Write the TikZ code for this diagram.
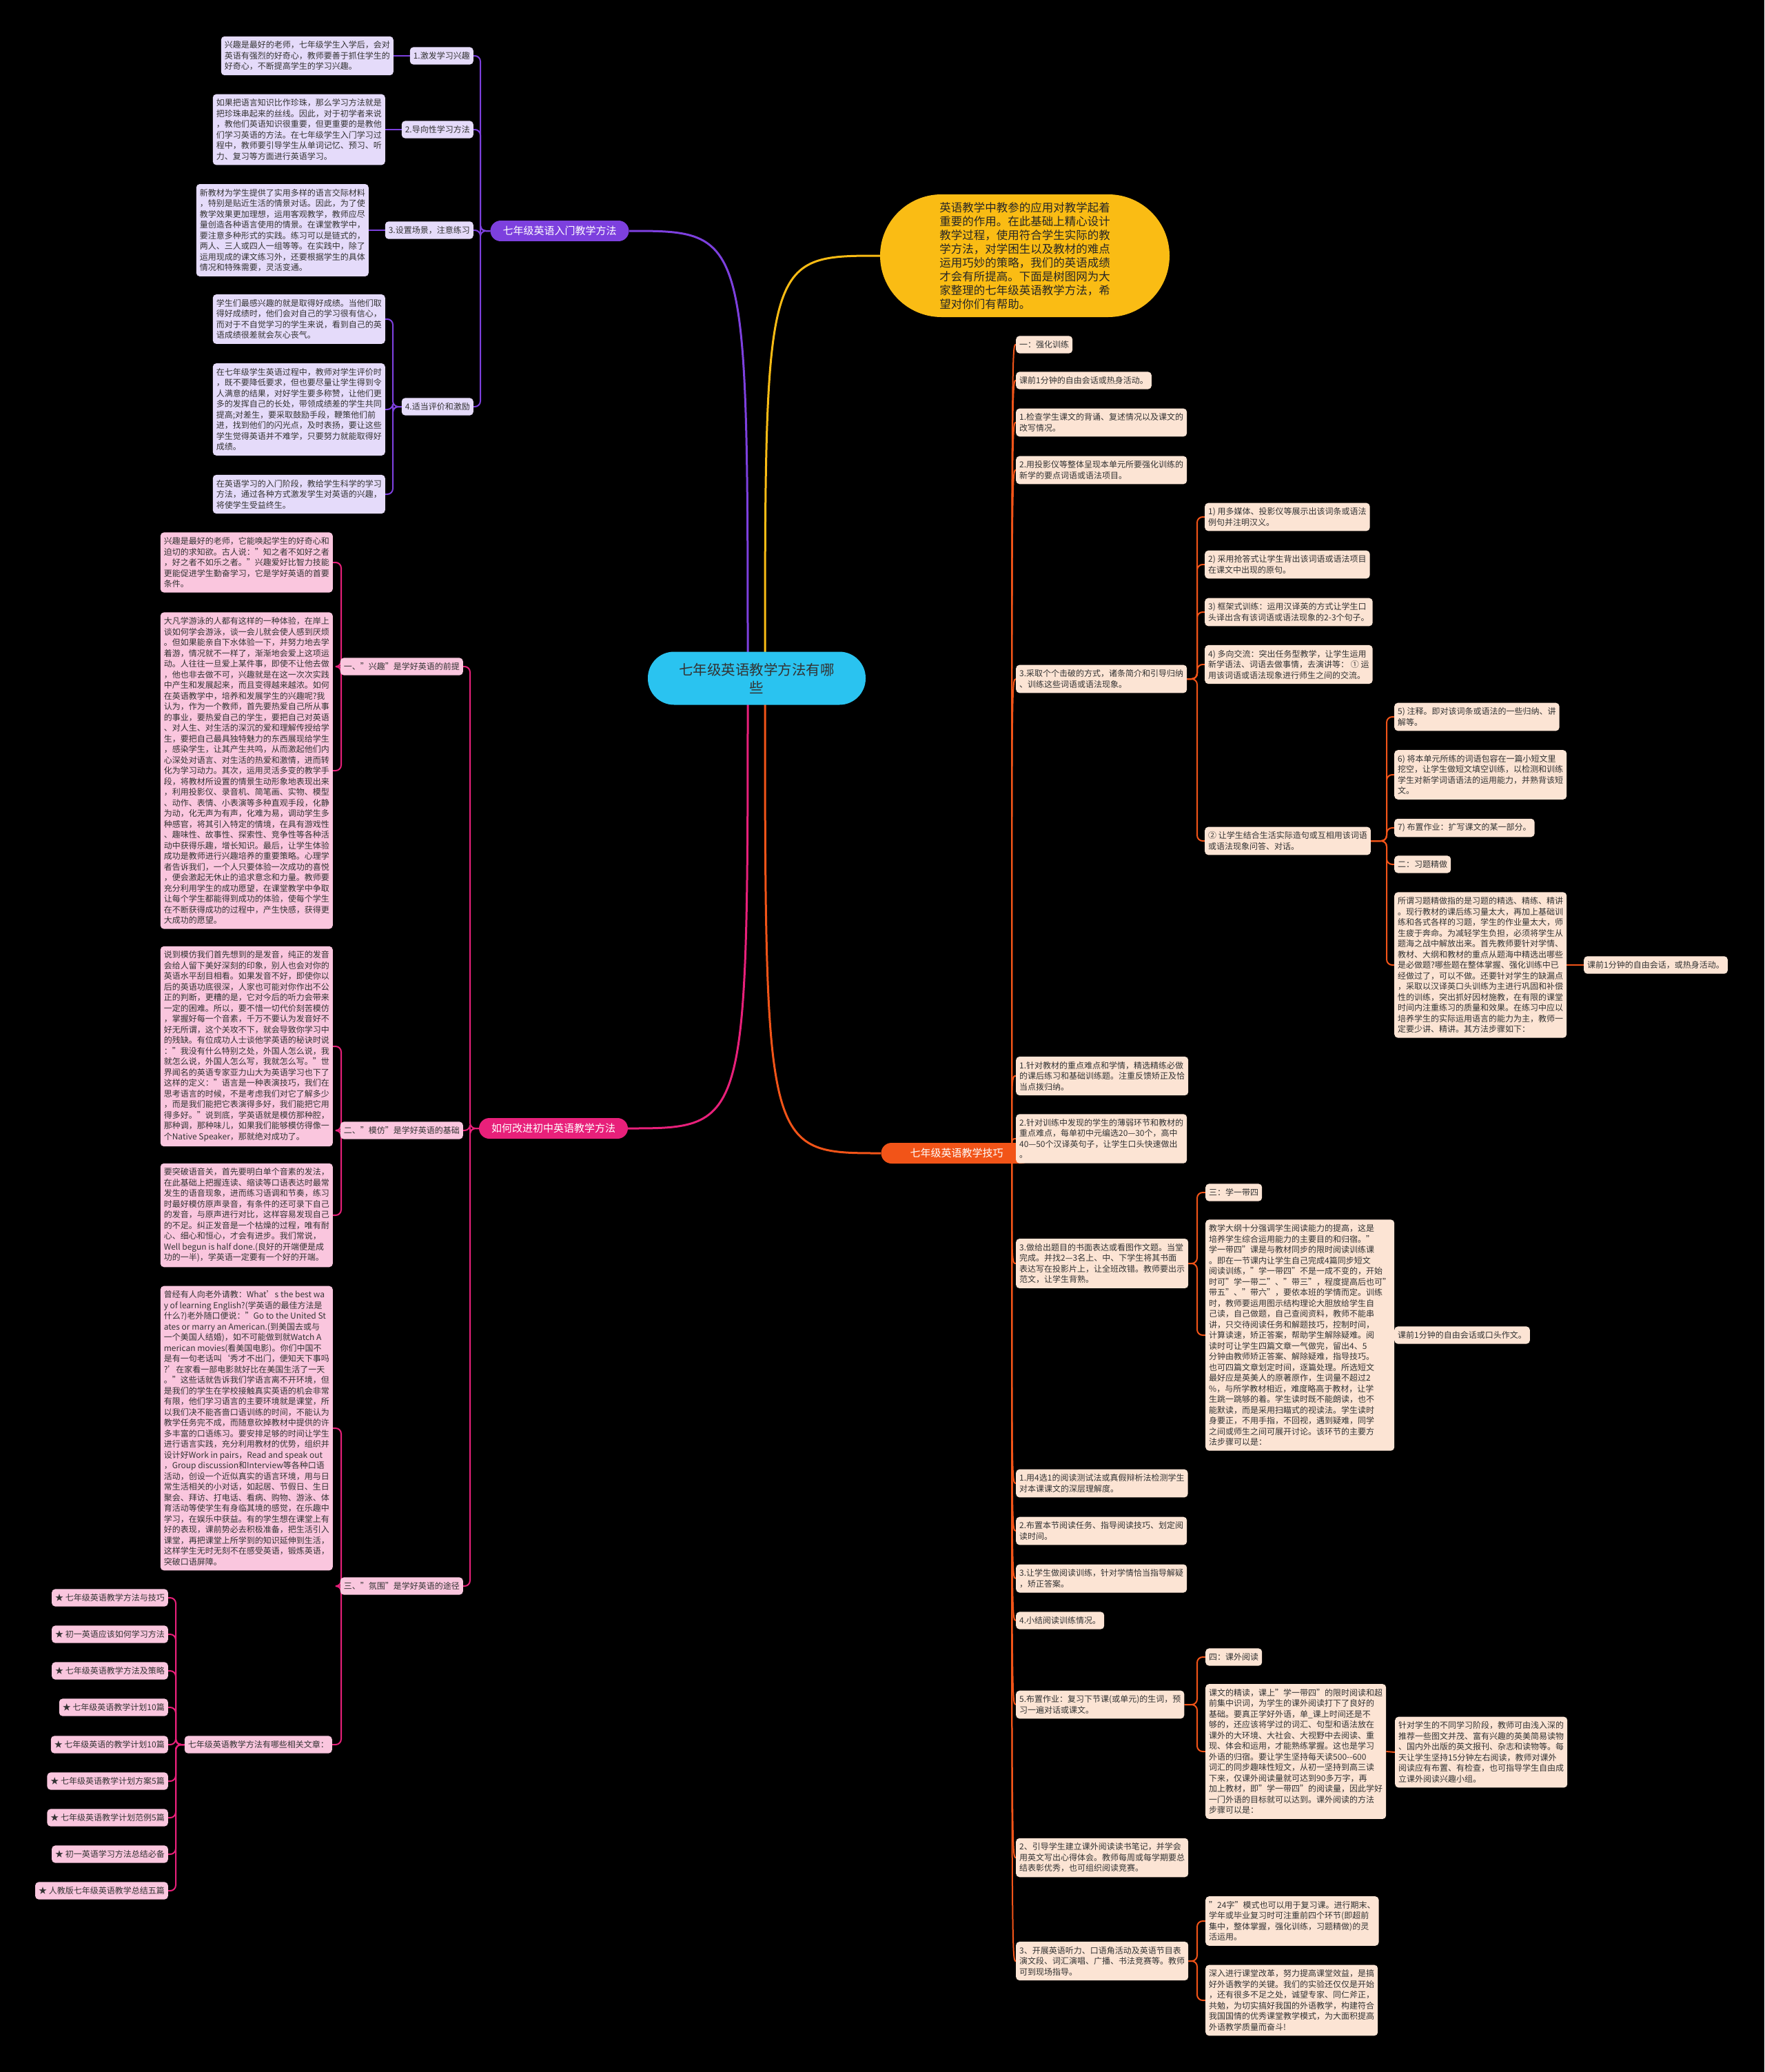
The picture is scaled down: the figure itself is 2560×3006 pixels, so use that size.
\documentclass[tikz,border=0pt]{standalone}
\usepackage{fontspec}
\setmainfont{Noto Sans CJK SC}
\definecolor{cyanc}{RGB}{42,195,240}
\definecolor{yel}{RGB}{250,188,20}
\definecolor{pur}{RGB}{125,64,222}
\definecolor{purl}{RGB}{229,219,250}
\definecolor{pnk}{RGB}{232,32,122}
\definecolor{pnkl}{RGB}{250,198,222}
\definecolor{org}{RGB}{242,84,24}
\definecolor{orgl}{RGB}{252,228,212}
\definecolor{txt}{RGB}{51,51,51}
\pgfdeclarelayer{bg}
\pgfdeclarelayer{lines}
\pgfsetlayers{bg,lines,main}
\tikzset{
  txtbox/.style={font=\fontsize{12}{15.5}\selectfont, align=left, inner xsep=5pt, inner ysep=7pt, rounded corners=5pt, text=txt},
  pbx/.style={txtbox, fill=purl},
  kbx/.style={txtbox, fill=pnkl},
  obx/.style={txtbox, fill=orgl},
  branch/.style={font=\fontsize{15}{18}\selectfont, text=white, inner xsep=18pt, inner ysep=8pt, rounded corners=15pt},
  pcon/.style={draw=pur, line width=2pt, rounded corners=8pt},
  kcon/.style={draw=pnk, line width=2pt, rounded corners=8pt},
  ocon/.style={draw=org, line width=2pt, rounded corners=8pt},
  ocurve/.style={draw=org, line width=2pt},
  mainline/.style={line width=3pt},
}
\begin{document}
\begin{tikzpicture}[x=1pt,y=-1pt]
\begin{pgfonlayer}{bg}
\fill[black] (0,0) rectangle (2560,3006);
\end{pgfonlayer}
\useasboundingbox (0,0) rectangle (2560,3006);

% vertical guide coordinates
\coordinate (vP) at (697,0);
\coordinate (v4) at (570,0);
\coordinate (vK) at (682,0);
\coordinate (v1) at (495,0);
\coordinate (vR) at (255,0);
\coordinate (vO) at (1737,0);
\coordinate (vD) at (2012,0);
\coordinate (P) at (1468,1673);

% root and bubble
\node[fill=cyanc, rounded corners=38pt, minimum width=316pt, minimum height=77pt, align=center, font=\fontsize{20.5}{26}\selectfont, text=txt] (root) at (1098,984) {七年级英语教学方法有哪\\些};
\node[fill=yel, rounded corners=89pt, minimum width=420pt, minimum height=178pt, align=left, font=\fontsize{16.5}{20}\selectfont, text=black!85] (yb) at (1487,371) {英语教学中教参的应用对教学起着\\
重要的作用。在此基础上精心设计\\
教学过程，使用符合学生实际的教\\
学方法，对学困生以及教材的难点\\
运用巧妙的策略，我们的英语成绩\\
才会有所提高。下面是树图网为大\\
家整理的七年级英语教学方法，希\\
望对你们有帮助。};

% ---------------- purple branch
\node[branch, fill=pur] (pb) at (812,335) {七年级英语入门教学方法};
\node[pbx, anchor=east] (l1) at (687,81) {1.激发学习兴趣};
\node[pbx, anchor=east] (b1) at (571,81) {兴趣是最好的老师，七年级学生入学后，会对\\
英语有强烈的好奇心，教师要善于抓住学生的\\
好奇心，不断提高学生的学习兴趣。};
\node[pbx, anchor=east] (l2) at (687,188) {2.导向性学习方法};
\node[pbx, anchor=east] (b2) at (559,188) {如果把语言知识比作珍珠，那么学习方法就是\\
把珍珠串起来的丝线。因此，对于初学者来说\\
，教他们英语知识很重要，但更重要的是教他\\
们学习英语的方法。在七年级学生入门学习过\\
程中，教师要引导学生从单词记忆、预习、听\\
力、复习等方面进行英语学习。};
\node[pbx, anchor=east] (l3) at (687,334) {3.设置场景，注意练习};
\node[pbx, anchor=east] (b3) at (535,334) {新教材为学生提供了实用多样的语言交际材料\\
，特别是贴近生活的情景对话。因此，为了使\\
教学效果更加理想，运用客观教学，教师应尽\\
量创造各种语言使用的情景。在课堂教学中，\\
要注意多种形式的实践。练习可以是链式的，\\
两人、三人或四人一组等等。在实践中，除了\\
运用现成的课文练习外，还要根据学生的具体\\
情况和特殊需要，灵活变通。};
\node[pbx, anchor=east] (l4) at (687,590) {4.适当评价和激励};
\node[pbx, anchor=east] (b4a) at (559,463) {学生们最感兴趣的就是取得好成绩。当他们取\\
得好成绩时，他们会对自己的学习很有信心，\\
而对于不自觉学习的学生来说，看到自己的英\\
语成绩很差就会灰心丧气。};
\node[pbx, anchor=east] (b4b) at (559,594) {在七年级学生英语过程中，教师对学生评价时\\
，既不要降低要求，但也要尽量让学生得到令\\
人满意的结果，对好学生要多称赞，让他们更\\
多的发挥自己的长处，带领成绩差的学生共同\\
提高;对差生，要采取鼓励手段，鞭策他们前\\
进，找到他们的闪光点，及时表扬，要让这些\\
学生觉得英语并不难学，只要努力就能取得好\\
成绩。};
\node[pbx, anchor=east] (b4c) at (559,717) {在英语学习的入门阶段，教给学生科学的学习\\
方法，通过各种方式激发学生对英语的兴趣，\\
将使学生受益终生。};

% ---------------- pink branch
\node[branch, fill=pnk] (kb) at (803,1637) {如何改进初中英语教学方法};
\node[kbx, anchor=east] (p1) at (672,967) {一、"兴趣"是学好英语的前提};
\node[kbx, anchor=east] (p1a) at (483,816) {兴趣是最好的老师，它能唤起学生的好奇心和\\
迫切的求知欲。古人说："知之者不如好之者\\
，好之者不如乐之者。"兴趣爱好比智力技能\\
更能促进学生勤奋学习，它是学好英语的首要\\
条件。};
\node[kbx, anchor=east] (p1b) at (483,1118) {大凡学游泳的人都有这样的一种体验，在岸上\\
谈如何学会游泳，谈一会儿就会使人感到厌烦\\
。但如果能亲自下水体验一下，并努力地去学\\
着游，情况就不一样了，渐渐地会爱上这项运\\
动。人往往一旦爱上某件事，即使不让他去做\\
，他也非去做不可，兴趣就是在这一次次实践\\
中产生和发展起来，而且变得越来越浓。如何\\
在英语教学中，培养和发展学生的兴趣呢?我\\
认为，作为一个教师，首先要热爱自己所从事\\
的事业，要热爱自己的学生，要把自己对英语\\
、对人生、对生活的深沉的爱和理解传授给学\\
生，要把自己最具独特魅力的东西展现给学生\\
，感染学生，让其产生共鸣，从而激起他们内\\
心深处对语言、对生活的热爱和激情，进而转\\
化为学习动力。其次，运用灵活多变的教学手\\
段，将教材所设置的情景生动形象地表现出来\\
，利用投影仪、录音机、简笔画、实物、模型\\
、动作、表情、小表演等多种直观手段，化静\\
为动，化无声为有声，化难为易，调动学生多\\
种感官，将其引入特定的情境，在具有游戏性\\
、趣味性、故事性、探索性、竞争性等各种活\\
动中获得乐趣，增长知识。最后，让学生体验\\
成功是教师进行兴趣培养的重要策略。心理学\\
者告诉我们，一个人只要体验一次成功的喜悦\\
，便会激起无休止的追求意念和力量。教师要\\
充分利用学生的成功愿望，在课堂教学中争取\\
让每个学生都能得到成功的体验，使每个学生\\
在不断获得成功的过程中，产生快感，获得更\\
大成功的愿望。};
\node[kbx, anchor=east] (p2) at (672,1640) {二、"模仿"是学好英语的基础};
\node[kbx, anchor=east] (p2a) at (483,1518) {说到模仿我们首先想到的是发音，纯正的发音\\
会给人留下美好深刻的印象，别人也会对你的\\
英语水平刮目相看。如果发音不好，即使你以\\
后的英语功底很深，人家也可能对你作出不公\\
正的判断，更糟的是，它对今后的听力会带来\\
一定的困难。所以，要不惜一切代价刻苦模仿\\
，掌握好每一个音素，千万不要认为发音好不\\
好无所谓，这个关攻不下，就会导致你学习中\\
的残缺。有位成功人士谈他学英语的秘诀时说\\
："我没有什么特别之处，外国人怎么说，我\\
就怎么说，外国人怎么写，我就怎么写。"世\\
界闻名的英语专家亚力山大为英语学习也下了\\
这样的定义："语言是一种表演技巧，我们在\\
思考语言的时候，不是考虑我们对它了解多少\\
，而是我们能把它表演得多好，我们能把它用\\
得多好。"说到底，学英语就是模仿那种腔，\\
那种调，那种味儿，如果我们能够模仿得像一\\
个Native Speaker，那就绝对成功了。};
\node[kbx, anchor=east] (p2b) at (483,1763) {要突破语音关，首先要明白单个音素的发法，\\
在此基础上把握连读、缩读等口语表达时最常\\
发生的语音现象，进而练习语调和节奏，练习\\
时最好模仿原声录音，有条件的还可录下自己\\
的发音，与原声进行对比，这样容易发现自己\\
的不足。纠正发音是一个枯燥的过程，唯有耐\\
心、细心和恒心，才会有进步。我们常说，\\
Well begun is half done.(良好的开端便是成\\
功的一半)，学英语一定要有一个好的开端。};
\node[kbx, anchor=east] (p3) at (672,2301) {三、"氛围"是学好英语的途径};
\node[kbx, anchor=east] (p3a) at (483,2072) {曾经有人向老外请教：What’s the best wa\\
y of learning English?(学英语的最佳方法是\\
什么?)老外随口便说："Go to the United St\\
ates or marry an American.(到美国去或与\\
一个美国人结婚)，如不可能做到就Watch A\\
merican movies(看美国电影)。你们中国不\\
是有一句老话叫‘秀才不出门，便知天下事吗\\
?’在家看一部电影就好比在美国生活了一天\\
。"这些话就告诉我们学语言离不开环境，但\\
是我们的学生在学校接触真实英语的机会非常\\
有限，他们学习语言的主要环境就是课堂，所\\
以我们决不能吝啬口语训练的时间，不能认为\\
教学任务完不成，而随意砍掉教材中提供的许\\
多丰富的口语练习。要安排足够的时间让学生\\
进行语言实践，充分利用教材的优势，组织并\\
设计好Work in pairs，Read and speak out\\
，Group discussion和Interview等各种口语\\
活动，创设一个近似真实的语言环境，用与日\\
常生活相关的小对话，如起居、节假日、生日\\
聚会、拜访、打电话、看病、购物、游泳、体\\
育活动等使学生有身临其境的感觉，在乐趣中\\
学习，在娱乐中获益。有的学生想在课堂上有\\
好的表现，课前势必去积极准备，把生活引入\\
课堂，再把课堂上所学到的知识延伸到生活，\\
这样学生无时无刻不在感受英语，锻炼英语，\\
突破口语屏障。};
\node[kbx, anchor=east] (rel) at (482,2531) {七年级英语教学方法有哪些相关文章：};
\node[kbx, anchor=east] (s1) at (244,2318) {★ 七年级英语教学方法与技巧};
\node[kbx, anchor=east] (s2) at (244,2371) {★ 初一英语应该如何学习方法};
\node[kbx, anchor=east] (s3) at (244,2424) {★ 七年级英语教学方法及策略};
\node[kbx, anchor=east] (s4) at (244,2477) {★ 七年级英语教学计划10篇};
\node[kbx, anchor=east] (s5) at (244,2531) {★ 七年级英语的教学计划10篇};
\node[kbx, anchor=east] (s6) at (244,2584) {★ 七年级英语教学计划方案5篇};
\node[kbx, anchor=east] (s7) at (244,2637) {★ 七年级英语教学计划范例5篇};
\node[kbx, anchor=east] (s8) at (244,2690) {★ 初一英语学习方法总结必备};
\node[kbx, anchor=east] (s9) at (244,2743) {★ 人教版七年级英语教学总结五篇};

% ---------------- orange branch
\node[branch, fill=org, minimum width=219pt] (ob) at (1388,1673) {七年级英语教学技巧};
\node[obx, anchor=west] (c1) at (1474,500) {一：强化训练};
\node[obx, anchor=west] (c2) at (1474,552) {课前1分钟的自由会话或热身活动。};
\node[obx, anchor=west] (c3) at (1474,613) {1.检查学生课文的背诵、复述情况以及课文的\\改写情况。};
\node[obx, anchor=west] (c4) at (1474,682) {2.用投影仪等整体呈现本单元所要强化训练的\\新学的要点词语或语法项目。};
\node[obx, anchor=west] (c5) at (1474,985) {3.采取个个击破的方式，诸条简介和引导归纳\\、训练这些词语或语法现象。};
\node[obx, anchor=west] (d1) at (1748,750) {1) 用多媒体、投影仪等展示出该词条或语法\\例句并注明汉义。};
\node[obx, anchor=west] (d2) at (1748,819) {2) 采用抢答式让学生背出该词语或语法项目\\在课文中出现的原句。};
\node[obx, anchor=west] (d3) at (1748,888) {3) 框架式训练：运用汉译英的方式让学生口\\头译出含有该词语或语法现象的2-3个句子。};
\node[obx, anchor=west] (d4) at (1748,964) {4) 多向交流：突出任务型教学，让学生运用\\新学语法、词语去做事情，去演讲等： ① 运\\用该词语或语法现象进行师生之间的交流。};
\node[obx, anchor=west] (d5) at (1748,1220) {② 让学生结合生活实际造句或互相用该词语\\或语法现象问答、对话。};
\node[obx, anchor=west] (e1) at (2023,1040) {5) 注释。即对该词条或语法的一些归纳、讲\\解等。};
\node[obx, anchor=west] (e2) at (2023,1124) {6) 将本单元所练的词语包容在一篇小短文里\\挖空，让学生做短文填空训练，以检测和训练\\学生对新学词语语法的运用能力，并熟背该短\\文。};
\node[obx, anchor=west] (e3) at (2023,1201) {7) 布置作业：扩写课文的某一部分。};
\node[obx, anchor=west] (e4) at (2023,1254) {二：习题精做};
\node[obx, anchor=west] (e5) at (2023,1400) {所谓习题精做指的是习题的精选、精练、精讲\\
。现行教材的课后练习量太大，再加上基础训\\
练和各式各样的习题，学生的作业量太大，师\\
生疲于奔命。为减轻学生负担，必须将学生从\\
题海之战中解放出来。首先教师要针对学情、\\
教材、大纲和教材的重点从题海中精选出哪些\\
是必做题?哪些题在整体掌握、强化训练中已\\
经做过了，可以不做。还要针对学生的缺漏点\\
，采取以汉译英口头训练为主进行巩固和补偿\\
性的训练，突出抓好因材施教，在有限的课堂\\
时间内注重练习的质量和效果。在练习中应以\\
培养学生的实际运用语言的能力为主，教师一\\
定要少讲、精讲。其方法步骤如下：};
\node[obx, anchor=west] (e6) at (2298,1400) {课前1分钟的自由会话，或热身活动。};
\node[obx, anchor=west] (c6) at (1474,1561) {1.针对教材的重点难点和学情，精选精练必做\\的课后练习和基础训练题。注重反馈矫正及恰\\当点拨归纳。};
\node[obx, anchor=west] (c7) at (1474,1652) {2.针对训练中发现的学生的薄弱环节和教材的\\重点难点，每单初中元编选20—30个，高中\\40—50个汉译英句子，让学生口头快速做出\\。};
\node[obx, anchor=west] (c8) at (1474,1833) {3.做给出题目的书面表达或看图作文题。当堂\\完成。并找2—3名上、中、下学生将其书面\\表达写在投影片上，让全班改错。教师要出示\\范文，让学生背熟。};
\node[obx, anchor=west] (f1) at (1749,1730) {三：学一带四};
\node[obx, anchor=west] (f2) at (1749,1937) {教学大纲十分强调学生阅读能力的提高，这是\\
培养学生综合运用能力的主要目的和归宿。"\\
学一带四"课是与教材同步的限时阅读训练课\\
。即在一节课内让学生自己完成4篇同步短文\\
阅读训练，"学一带四"不是一成不变的，开始\\
时可"学一带二"、"带三"，程度提高后也可"\\
带五"、"带六"，要依本班的学情而定。训练\\
时，教师要运用图示结构理论大胆放给学生自\\
己读，自己做题，自己查阅资料，教师不能串\\
讲，只交待阅读任务和解题技巧，控制时间，\\
计算读速，矫正答案，帮助学生解除疑难。阅\\
读时可让学生四篇文章一气做完，留出4、5\\
分钟由教师矫正答案、解除疑难，指导技巧。\\
也可四篇文章划定时间，逐篇处理。所选短文\\
最好应是英美人的原著原作，生词量不超过2\\
\%，与所学教材相近，难度略高于教材，让学\\
生跳一跳够的着。学生读时既不能朗读，也不\\
能默读，而是采用扫瞄式的视读法。学生读时\\
身要正，不用手指，不回视，遇到疑难，同学\\
之间或师生之间可展开讨论。该环节的主要方\\
法步骤可以是：};
\node[obx, anchor=west] (f3) at (2023,1937) {课前1分钟的自由会话或口头作文。};
\node[obx, anchor=west] (g1) at (1474,2152) {1.用4选1的阅读测试法或真假辩析法检测学生\\对本课课文的深层理解度。};
\node[obx, anchor=west] (g2) at (1474,2221) {2.布置本节阅读任务、指导阅读技巧、划定阅\\读时间。};
\node[obx, anchor=west] (g3) at (1474,2290) {3.让学生做阅读训练，针对学情恰当指导解疑\\，矫正答案。};
\node[obx, anchor=west] (g4) at (1474,2351) {4.小结阅读训练情况。};
\node[obx, anchor=west] (g5) at (1474,2473) {5.布置作业：复习下节课(或单元)的生词，预\\习一遍对话或课文。};
\node[obx, anchor=west] (h1) at (1749,2404) {四：课外阅读};
\node[obx, anchor=west] (h2) at (1749,2541) {课文的精读，课上"学一带四"的限时阅读和超\\
前集中识词，为学生的课外阅读打下了良好的\\
基础。要真正学好外语，单\_课上时间还是不\\
够的，还应该将学过的词汇、句型和语法放在\\
课外的大环境、大社会、大视野中去阅读、重\\
现、体会和运用，才能熟练掌握。这也是学习\\
外语的归宿。要让学生坚持每天读500-{}-600\\
词汇的同步趣味性短文，从初一坚持到高三读\\
下来，仅课外阅读量就可达到90多万字，再\\
加上教材，即"学一带四"的阅读量，因此学好\\
一门外语的目标就可以达到。课外阅读的方法\\
步骤可以是：};
\node[obx, anchor=west] (h3) at (2024,2542) {针对学生的不同学习阶段，教师可由浅入深的\\
推荐一些图文并茂、富有兴趣的英美简易读物\\
、国内外出版的英文报刊、杂志和读物等。每\\
天让学生坚持15分钟左右阅读，教师对课外\\
阅读应有布置、有检查，也可指导学生自由成\\
立课外阅读兴趣小组。};
\node[obx, anchor=west] (g6) at (1474,2695) {2、引导学生建立课外阅读读书笔记，并学会\\用英文写出心得体会。教师每周或每学期要总\\结表彰优秀，也可组织阅读竞赛。};
\node[obx, anchor=west] (g7) at (1474,2845) {3、开展英语听力、口语角活动及英语节目表\\演文段、词汇演唱、广播、书法竞赛等。教师\\可到现场指导。};
\node[obx, anchor=west] (i1) at (1749,2787) {"24字"模式也可以用于复习课。进行期末、\\学年或毕业复习时可注重前四个环节(即超前\\集中，整体掌握，强化训练，习题精做)的灵\\活运用。};
\node[obx, anchor=west] (i2) at (1749,2902) {深入进行课堂改革，努力提高课堂效益，是搞\\好外语教学的关键。我们的实验还仅仅是开始\\，还有很多不足之处，诚望专家、同仁斧正，\\共勉，为切实搞好我国的外语教学，构建符合\\我国国情的优秀课堂教学模式，为大面积提高\\外语教学质量而奋斗!};

% ---------------- connectors
\begin{pgfonlayer}{lines}
\draw[mainline, yel] (1110,984) .. controls (1110,371) .. (yb.west);
\draw[mainline, pur] (1085,984) .. controls (1085,335) .. (pb.east);
\draw[mainline, pnk] (1085,984) .. controls (1085,1637) .. (kb.east);
\draw[mainline, org] (1110,984) .. controls (1110,1673) .. (ob.west);

\foreach \n in {l1,l2,l3,l4} \draw[pcon] (pb.west) -- (pb.west -| vP) |- (\n.east);
\draw[pcon] (l1.west) -- (b1.east);
\draw[pcon] (l2.west) -- (b2.east);
\draw[pcon] (l3.west) -- (b3.east);
\foreach \n in {b4a,b4b,b4c} \draw[pcon] (l4.west) -- (l4.west -| v4) |- (\n.east);

\foreach \n in {p1,p2,p3} \draw[kcon] (kb.west) -- (kb.west -| vK) |- (\n.east);
\foreach \n in {p1a,p1b} \draw[kcon] (p1.west) -- (p1.west -| v1) |- (\n.east);
\foreach \n in {p2a,p2b} \draw[kcon] (p2.west) -- (p2.west -| v1) |- (\n.east);
\foreach \n in {p3a,rel} \draw[kcon] (p3.west) -- (p3.west -| v1) |- (\n.east);
\foreach \n in {s1,s2,s3,s4,s5,s6,s7,s8,s9} \draw[kcon] (rel.west) -- (rel.west -| vR) |- (\n.east);

\foreach \n in {c1,c2,c3,c4,c5,c6,c7,c8,g1,g2,g3,g4,g5,g6,g7} \draw[ocurve] (P) .. controls (P |- \n.west) .. (\n.west);
\foreach \n in {d1,d2,d3,d4,d5} \draw[ocon] (c5.east) -- (c5.east -| vO) |- (\n.west);
\foreach \n in {e1,e2,e3,e4,e5} \draw[ocon] (d5.east) -- (d5.east -| vD) |- (\n.west);
\draw[ocon] (e5.east) -- (e6.west);
\foreach \n in {f1,f2} \draw[ocon] (c8.east) -- (c8.east -| vO) |- (\n.west);
\draw[ocon] (f2.east) -- (f3.west);
\foreach \n in {h1,h2} \draw[ocon] (g5.east) -- (g5.east -| vO) |- (\n.west);
\draw[ocon] (h2.east) -- (h3.west);
\foreach \n in {i1,i2} \draw[ocon] (g7.east) -- (g7.east -| vO) |- (\n.west);
\end{pgfonlayer}
\end{tikzpicture}
\end{document}
